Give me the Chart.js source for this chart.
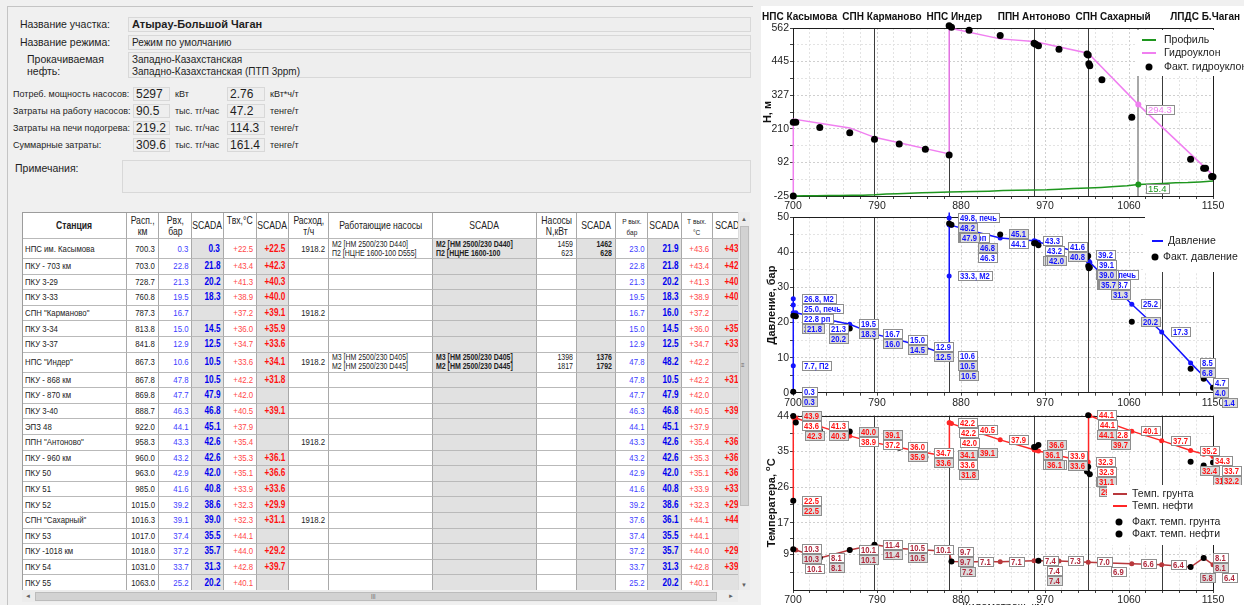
<!DOCTYPE html>
<html lang="ru">
<head>
<meta charset="UTF-8" />
<title>Атырау-Большой Чаган</title>
<script src="https://cdn.jsdelivr.net/npm/chart.js"></script>
<style>
  html, body { margin: 0; padding: 0; }
  body { position: relative; width: 1244px; height: 605px; overflow: hidden; background: #f0f0f0;
         font-family: "Liberation Sans", Arial, sans-serif; color: #1e1e1e; }
  .a { position: absolute; white-space: nowrap; }
  .frame { left: 7px; top: 6px; width: 745px; height: 640px; border-top: 1px solid #c4c4c4; border-left: 1px solid #c4c4c4; }
  .lbl { font-size: 10.5px; line-height: 12px; }
  .st { font-size: 9px; line-height: 12px; }
  .box { background: #eeeeee; border: 1px solid #d8d8d8; box-sizing: border-box; padding-left: 3px; }
  .val { font-size: 12px; line-height: 12px; padding-left: 2px; }
  #grid { left: 22px; top: 212px; width: 716px; height: 378px; overflow: hidden; background: #fff;
          border-left: 1px solid #9c9c9c; border-top: 1px solid #9c9c9c; box-sizing: border-box; }
  .c { position: absolute; box-sizing: border-box; border-right: 1px solid #a9a9a9; border-bottom: 1px solid #b9b9b9;
       display: flex; align-items: center; overflow: hidden; white-space: nowrap; padding: 0 3px;
       font-family: "Liberation Sans", Arial, sans-serif; font-size: 9.5px; line-height: 10px; color: #222; }
  .t { display: inline-block; transform: scaleX(0.82); transform-origin: left center; }
  .r { justify-content: flex-end; text-align: right; }
  .r .t { transform-origin: right center; }
  .h { justify-content: center; text-align: center; font-size: 10.5px; line-height: 11px; background: #fff; }
  .h .t { transform-origin: center center; }
  .g { background: #e1e1e1; }
  .bl { color: #4040ff; }
  .bb { color: #0000ee; font-weight: bold; font-size: 10px; }
  .rd { color: #ff4848; }
  .rb { color: #ff1010; font-weight: bold; font-size: 10px; }
  .pm { font-size: 8.5px; line-height: 9px; }
  .b { font-weight: bold; }
  .sb { background: #ececec; }
  .thumb { background: #d2d2d2; border: 1px solid #bcbcbc; box-sizing: border-box; }
  .arr { font-size: 6px; color: #606060; line-height: 6px; }
  #right { left: 761px; top: 6px; width: 483px; height: 599px; background: #fff; }
  canvas { position: absolute; left: 757px; }
</style>
</head>
<body>
  <!-- left form -->
  <div class="a frame"></div>
  <div class="a lbl" style="left:20px;top:18px">Название участка:</div>
  <div class="a box" style="left:128px;top:17px;width:623px;height:15px;font-size:11px;line-height:13px;font-weight:bold">Атырау-Большой Чаган</div>
  <div class="a lbl" style="left:20px;top:36px">Название режима:</div>
  <div class="a box" style="left:128px;top:35px;width:623px;height:15px;font-size:10px;line-height:13px">Режим по умолчанию</div>
  <div class="a lbl" style="left:27px;top:53px">Прокачиваемая</div>
  <div class="a lbl" style="left:27px;top:65px">нефть:</div>
  <div class="a box" style="left:128px;top:52px;width:623px;height:26px;font-size:10px;line-height:12px;padding-top:1px">Западно-Казахстанская<br>Западно-Казахстанская (ПТП 3ppm)</div>
  <div id="stats"></div>
  <div class="a lbl" style="left:15px;top:162px">Примечания:</div>
  <div class="a box" style="left:122px;top:160px;width:629px;height:33px"></div>

  <!-- station table -->
  <div id="grid" class="a"></div>
  <div class="a sb" style="left:738px;top:212px;width:12px;height:378px;border-left:1px solid #dcdcdc;box-sizing:border-box"></div>
  <div class="a arr" style="left:741px;top:216px">▲</div>
  <div class="a thumb" style="left:740px;top:226px;width:9px;height:280px"></div>
  <div class="a arr" style="left:741px;top:362px">≡</div>
  <div class="a arr" style="left:741px;top:582px">▼</div>
  <div class="a sb" style="left:22px;top:590px;width:716px;height:12px"></div>
  <div class="a arr" style="left:25px;top:593px">◄</div>
  <div class="a thumb" style="left:35px;top:592px;width:682px;height:9px"></div>
  <div class="a arr" style="left:371px;top:593px">|||</div>
  <div class="a arr" style="left:728px;top:593px">►</div>

  <!-- charts -->
  <div id="right" class="a"></div>
  <canvas id="c1" width="487" height="212" style="top:0px"></canvas>
  <canvas id="c2" width="487" height="205" style="top:205px"></canvas>
  <canvas id="c3" width="487" height="200" style="top:405px"></canvas>

<script>
// ---------- chart data ----------
const xTickLabels = [700, 790, 880, 970, 1060, 1150];
const stationKm = [700.3, 787.3, 867.3, 958.3, 1016.3, 1150];
const stationNames = ['НПС Касымова', 'СПН Карманово', 'НПС Индер', 'ППН Антоново', 'СПН Сахарный', 'ЛПДС Б.Чаган'];
const unnamedKm = [1095];

// hydraulic gradient, m
const hTicks = [-25, 92, 210, 327, 445, 562];
const profileKm = [700.3, 712, 725, 738, 750, 763, 775, 788, 800, 812, 825, 838, 850, 867.3, 880, 895, 910, 925, 940, 958.3, 972, 985, 1000, 1016.3, 1030, 1045, 1058, 1070, 1083, 1096, 1110, 1123, 1136, 1150];
const profileH = [-25, -24, -24, -23, -23, -22, -22, -21, -18, -17, -15, -14, -13, -11, -10, -9, -8, -6, -5, -4, -3, -1, 1, 3, 5, 8, 11, 15.4, 17, 19, 21, 22, 24, 27];
const hydroKm = [700.3, 700.3, 760.8, 787.3, 867.3, 867.3, 922, 958.3, 1016.3, 1070, 1150];
const hydroH = [-21, 244, 213, 180, 122, 562, 524, 515, 474, 294.3, 48];
const hydroFactKm = [700.3, 700.3, 703, 728.7, 760.8, 787.3, 813.8, 841.8, 867.3, 867.3, 869.8, 888.7, 922, 958.3, 960, 963, 985, 1015, 1016.3, 1017, 1018, 1031, 1063, 1126, 1140, 1142, 1148.5, 1150];
const hydroFactH = [-25, 233, 233, 214, 196, 173, 157, 138, 118, 570, 565, 554, 536, 509, 505, 500, 488, 471, 468, 437, 430, 381, 250, 103, 72, 72, 43, 42];
const cursorKm = 1070;
const cursorHydro = 294.3;
const cursorProfile = 15.4;

// pressure, bar
const pTicks = [0, 10, 20, 30, 40, 50];
const presKm = [700.3, 700.3, 700.3, 700.3, 700.3, 703, 728.7, 760.8, 787.3, 813.8, 841.8, 867.3, 867.3, 867.3, 867.3, 867.3, 867.8, 869.8, 888.7, 922, 958.3, 960, 963, 985, 1015, 1016.3, 1016.3, 1017, 1018, 1031, 1063, 1095, 1126, 1140, 1150];
const presCalc = [0.3, 7.7, 26.8, 25.0, 22.8, 22.8, 21.3, 19.5, 16.7, 15.0, 12.9, 10.6, 33.3, 51.4, 49.8, 47.9, 47.8, 47.7, 46.3, 44.1, 43.3, 43.2, 42.9, 41.6, 39.2, 39.1, 37.6, 37.4, 37.2, 33.7, 25.2, 17.3, 8.5, 4.7, 1.4];
const presNote = ['', ', П2', ', М2', ', печь', ' рп', '', '', '', '', '', '', '', ', М2', null, ', печь', ' рп', '', '', '', '', '', '', '', '', '', '', ', печь', '', '', '', '', '', '', '', ''];
const presFactKm = [700.3, 700.3, 703, 728.7, 760.8, 787.3, 813.8, 841.8, 867.3, 867.3, 867.8, 869.8, 888.7, 922, 958.3, 960, 963, 985, 1015, 1016.3, 1016.3, 1017, 1018, 1031, 1063, 1126, 1140, 1150];
const presFact = [0.3, 21.9, 21.8, 20.2, 18.3, 16.0, 14.5, 12.5, 10.5, 48.2, 10.5, 47.9, 46.8, 45.1, 42.6, 42.6, 42.0, 40.8, 38.6, 39.0, 36.1, 35.5, 35.7, 31.3, 20.2, 6.8, 4.0, 1.4];

// temperature, °C
const tTicks = [9, 17, 26, 35, 44];
const oilKm = [700.3, 700.3, 703, 728.7, 760.8, 787.3, 813.8, 841.8, 867.3, 867.3, 867.8, 869.8, 888.7, 922, 958.3, 960, 963, 985, 1015, 1016.3, 1016.3, 1017, 1018, 1031, 1063, 1095, 1126, 1140, 1150];
const oilT = [22.5, 43.6, 43.4, 41.3, 38.9, 37.2, 36.0, 34.7, 33.6, 42.2, 42.2, 42.0, 40.5, 37.9, 35.4, 35.3, 35.1, 33.9, 32.3, 32.3, 44.1, 44.1, 44.0, 42.8, 40.1, 37.7, 35.2, 34.3, 33.7];
const oilFactKm = [700.3, 700.3, 703, 728.7, 760.8, 787.3, 813.8, 841.8, 867.3, 867.8, 888.7, 958.3, 960, 963, 985, 1015, 1016.3, 1016.3, 1018, 1031, 1126, 1140, 1150];
const oilFact = [22.5, 43.9, 42.3, 40.3, 40.0, 39.1, 35.9, 33.6, 34.1, 31.8, 39.1, 36.1, 36.1, 36.6, 33.6, 29.9, 31.1, 44.1, 29.2, 39.7, 32.4, 31.4, 32.2];
const groundKm = [700.3, 703, 728.7, 760.8, 787.3, 813.8, 841.8, 867.3, 869.8, 888.7, 922, 958.3, 963, 985, 1016.3, 1031, 1063, 1095, 1126, 1140, 1150];
const groundT = [10.3, 10.1, 8.1, 10.1, 11.4, 10.5, 10.1, 9.7, 7.2, 7.1, 7.1, 7.4, 7.4, 7.3, 7.0, 6.9, 6.6, 6.4, 5.8, 8.1, 6.4];
const groundFactKm = [700.3, 728.7, 760.8, 787.3, 813.8, 867.3, 869.8, 963, 1126, 1140];
const groundFact = [10.3, 8.1, 10.1, 11.4, 10.5, 9.7, 7.2, 7.4, 5.8, 8.1];

// ---------- form + table data ----------
const stats = [
  ['Потреб. мощность насосов:', '5297', 'кВт', '2.76', 'кВт*ч/т'],
  ['Затраты на работу насосов:', '90.5', 'тыс. тг/час', '47.2', 'тенге/т'],
  ['Затраты на печи подогрева:', '219.2', 'тыс. тг/час', '114.3', 'тенге/т'],
  ['Суммарные затраты:', '309.6', 'тыс. тг/час', '161.4', 'тенге/т']
];
const statCenters = [94, 111, 128, 145];

const colEdges = [22, 127, 159, 192, 224, 257, 289, 329, 433, 537, 577, 616, 648, 682, 713, 749];
const colCls = ['', 'r', 'r bl', 'r bb g', 'r rd', 'r rb g', 'r', 'pm', 'pm b g', 'r pm', 'r pm b g', 'r bl', 'r bb g', 'r rd', 'r rb g'];
const headers = ['<b>Станция</b>', 'Расп.,<br>км', 'Рвх,<br>бар', 'SCADA', 'Твх,°С<br>&nbsp;', 'SCADA', 'Расход,<br>т/ч',
  'Работающие насосы', 'SCADA', 'Насосы<br>N,кВт', 'SCADA', '<span style="font-size:8px;line-height:9px">Р вых.<br>бар</span>', 'SCADA',
  '<span style="font-size:8px;line-height:9px">Т вых.<br>°С</span>', 'SCADA'];

const R = (n, km, pi, spi, ti, sti, fl, po, spo, to, sto) => [n, km, pi, spi, ti, sti, fl, '', '', '', '', po, spo, to, sto];
const tableRows = [
  ['НПС им. Касымова', '700.3', '0.3', '0.3', '+22.5', '+22.5', '1918.2', 'М2 [НМ 2500/230 D440]<br>П2 [НЦНЕ 1600-100 D555]', 'М2 [НМ 2500/230 D440]<br>П2 [НЦНЕ 1600-100', '1459<br>623', '1462<br>628', '23.0', '21.9', '+43.6', '+43.9'],
  R('ПКУ - 703 км', '703.0', '22.8', '21.8', '+43.4', '+42.3', '', '22.8', '21.8', '+43.4', '+42.3'),
  R('ПКУ 3-29', '728.7', '21.3', '20.2', '+41.3', '+40.3', '', '21.3', '20.2', '+41.3', '+40.3'),
  R('ПКУ 3-33', '760.8', '19.5', '18.3', '+38.9', '+40.0', '', '19.5', '18.3', '+38.9', '+40.0'),
  R('СПН "Карманово"', '787.3', '16.7', '', '+37.2', '+39.1', '1918.2', '16.7', '16.0', '+37.2', ''),
  R('ПКУ 3-34', '813.8', '15.0', '14.5', '+36.0', '+35.9', '', '15.0', '14.5', '+36.0', '+35.9'),
  R('ПКУ 3-37', '841.8', '12.9', '12.5', '+34.7', '+33.6', '', '12.9', '12.5', '+34.7', '+33.6'),
  ['НПС "Индер"', '867.3', '10.6', '10.5', '+33.6', '+34.1', '1918.2', 'М3 [НМ 2500/230 D405]<br>М2 [НМ 2500/230 D445]', 'М3 [НМ 2500/230 D405]<br>М2 [НМ 2500/230 D445]', '1398<br>1817', '1376<br>1792', '47.8', '48.2', '+42.2', ''],
  R('ПКУ - 868 км', '867.8', '47.8', '10.5', '+42.2', '+31.8', '', '47.8', '10.5', '+42.2', '+31.8'),
  R('ПКУ - 870 км', '869.8', '47.7', '47.9', '+42.0', '', '', '47.7', '47.9', '+42.0', ''),
  R('ПКУ 3-40', '888.7', '46.3', '46.8', '+40.5', '+39.1', '', '46.3', '46.8', '+40.5', '+39.1'),
  R('ЭПЗ 48', '922.0', '44.1', '45.1', '+37.9', '', '', '44.1', '45.1', '+37.9', ''),
  R('ППН "Антоново"', '958.3', '43.3', '42.6', '+35.4', '', '1918.2', '43.3', '42.6', '+35.4', '+36.1'),
  R('ПКУ - 960 км', '960.0', '43.2', '42.6', '+35.3', '+36.1', '', '43.2', '42.6', '+35.3', '+36.1'),
  R('ПКУ 50', '963.0', '42.9', '42.0', '+35.1', '+36.6', '', '42.9', '42.0', '+35.1', '+36.6'),
  R('ПКУ 51', '985.0', '41.6', '40.8', '+33.9', '+33.6', '', '41.6', '40.8', '+33.9', '+33.6'),
  R('ПКУ 52', '1015.0', '39.2', '38.6', '+32.3', '+29.9', '', '39.2', '38.6', '+32.3', '+29.9'),
  R('СПН "Сахарный"', '1016.3', '39.1', '39.0', '+32.3', '+31.1', '1918.2', '37.6', '36.1', '+44.1', '+44.1'),
  R('ПКУ 53', '1017.0', '37.4', '35.5', '+44.1', '', '', '37.4', '35.5', '+44.1', ''),
  R('ПКУ -1018 км', '1018.0', '37.2', '35.7', '+44.0', '+29.2', '', '37.2', '35.7', '+44.0', '+29.2'),
  R('ПКУ 54', '1031.0', '33.7', '31.3', '+42.8', '+39.7', '', '33.7', '31.3', '+42.8', '+39.7'),
  R('ПКУ 55', '1063.0', '25.2', '20.2', '+40.1', '', '', '25.2', '20.2', '+40.1', '')
];

// ---------- build form ----------
let html = '';
stats.forEach((s, i) => {
  const c = statCenters[i];
  html += `<div class="a st" style="left:13px;top:${c - 6}px">${s[0]}</div>`;
  html += `<div class="a box val" style="left:133px;top:${c - 7}px;width:37px;height:14px">${s[1]}</div>`;
  html += `<div class="a st" style="left:175px;top:${c - 6}px">${s[2]}</div>`;
  html += `<div class="a box val" style="left:227px;top:${c - 7}px;width:38px;height:14px">${s[3]}</div>`;
  html += `<div class="a st" style="left:270px;top:${c - 6}px">${s[4]}</div>`;
});
document.getElementById('stats').innerHTML = html;

// ---------- build table ----------
function cells(row, top, h, header) {
  let out = '';
  row.forEach((txt, i) => {
    const left = colEdges[i] - 23, w = colEdges[i + 1] - colEdges[i];
    const cls = header ? 'c h' : 'c ' + colCls[i];
    out += `<div class="${cls}" style="left:${left}px;top:${top}px;width:${w}px;height:${h}px"><span class="t">${txt}</span></div>`;
  });
  return out;
}
let tbl = cells(headers, 0, 26, true);
let y0 = 26;
tableRows.forEach(r => {
  const h = r[7] ? 20 : 15.6;
  tbl += cells(r, y0, h, false);
  y0 += h;
});
document.getElementById('grid').innerHTML = tbl;

// ---------- charts ----------
const FONT = '"Liberation Sans", Arial, sans-serif';
const BLUE = '#1414ff', PINK = '#f07ff0', GREEN = '#1e961e', RED = '#ff2626', GROUND = '#b8383c';
const decoCfg = {};

// boxed value label; sx squeezes the text horizontally like the original narrow font
function labelBox(ctx, text, x, top, color, bg, sx) {
  const w = Math.ceil(ctx.measureText(text).width * sx) + 4, h = 9;
  const l = Math.round(x), t = Math.round(top);
  ctx.fillStyle = bg;
  ctx.fillRect(l, t, w, h);
  ctx.strokeStyle = '#8e8e8e';
  ctx.lineWidth = 1;
  ctx.strokeRect(l + 0.5, t + 0.5, w, h);
  ctx.save();
  ctx.translate(l + 2, t + h / 2 + 1);
  ctx.scale(sx, 1);
  ctx.fillStyle = color;
  ctx.textBaseline = 'middle';
  ctx.textAlign = 'left';
  ctx.fillText(text, 0, 0);
  ctx.restore();
}

function drawBoxLabels(chart, groups) {
  const { ctx, scales: { x, y } } = chart;
  const SX = 0.85;
  ctx.save();
  ctx.font = 'bold 9px ' + FONT;
  const items = [];
  groups.forEach(g => g.km.forEach((k, i) => {
    if (g.text[i] == null) return;
    items.push({ px: x.getPixelForValue(k), py: y.getPixelForValue(g.val[i]), text: g.text[i],
      w: Math.ceil(ctx.measureText(g.text[i]).width * SX) + 4, h: 10, color: g.color, bg: g.bg });
  }));
  // greedy placement: a box moves down (at most twice) when it hits an earlier one
  const placed = [];
  items.slice().sort((a, b) => a.py - b.py).forEach(it => {
    it.x = it.px + 9;
    it.y = it.py - it.h / 2;
    for (let n = 0; n < 2; n++) {
      const hit = placed.find(p => it.x < p.x + p.w && it.x + it.w > p.x && it.y < p.y + p.h && it.y + it.h > p.y);
      if (!hit) break;
      it.y = hit.y + hit.h;
    }
    placed.push(it);
  });
  items.forEach(it => labelBox(ctx, it.text, it.x, it.y, it.color, it.bg, SX));
  ctx.restore();
}

function drawLegend(ctx, lg) {
  ctx.save();
  ctx.fillStyle = '#fff';
  ctx.fillRect(lg.box[0], lg.box[1], lg.box[2], lg.box[3]);
  ctx.font = '10.5px ' + FONT;
  ctx.textBaseline = 'middle';
  ctx.textAlign = 'left';
  lg.items.forEach(it => {
    if (it.kind === 'line') {
      ctx.strokeStyle = it.color;
      ctx.lineWidth = 2;
      ctx.beginPath();
      ctx.moveTo(it.x0, it.y);
      ctx.lineTo(it.x1, it.y);
      ctx.stroke();
    } else {
      ctx.fillStyle = '#000';
      ctx.beginPath();
      ctx.arc(it.x0, it.y, 3.5, 0, Math.PI * 2);
      ctx.fill();
    }
    ctx.fillStyle = '#222';
    ctx.fillText(it.text, it.tx, it.y + 0.5);
  });
  ctx.restore();
}

const deco = {
  id: 'deco',
  beforeDatasetsDraw(chart) {
    const o = decoCfg[chart.canvas.id];
    const { ctx, chartArea: a, scales: { x } } = chart;
    ctx.save();
    ctx.strokeStyle = '#3c3c3c';
    ctx.lineWidth = 1;
    stationKm.concat(unnamedKm).forEach(k => {
      const px = Math.round(x.getPixelForValue(k)) + 0.5;
      ctx.beginPath();
      ctx.moveTo(px, a.top);
      ctx.lineTo(px, a.bottom);
      ctx.stroke();
    });
    if (o.cursor) {
      const px = Math.round(x.getPixelForValue(cursorKm));
      ctx.strokeStyle = '#a8a8a8';
      ctx.lineWidth = 2;
      ctx.beginPath();
      ctx.moveTo(px, a.top);
      ctx.lineTo(px, a.bottom);
      ctx.stroke();
    }
    ctx.strokeStyle = '#1e1e1e';
    ctx.lineWidth = 1;
    ctx.strokeRect(Math.round(a.left) + 0.5, Math.round(a.top) + 0.5, Math.round(a.width), Math.round(a.height));
    ctx.restore();
  },
  afterDatasetsDraw(chart) {
    const o = decoCfg[chart.canvas.id];
    const { ctx, chartArea: a, scales: { x, y } } = chart;
    ctx.save();
    if (o.cursor) {
      ctx.font = '9.5px ' + FONT;
      [[cursorHydro, PINK], [cursorProfile, GREEN]].forEach(([v, col]) => {
        const px = x.getPixelForValue(cursorKm), py = y.getPixelForValue(v);
        ctx.fillStyle = col;
        ctx.beginPath();
        ctx.arc(px, py, 3, 0, Math.PI * 2);
        ctx.fill();
        labelBox(ctx, v.toFixed(1), px + 8, py, col, '#fff', 1);
      });
    }
    if (o.labels) drawBoxLabels(chart, o.labels);
    if (o.legend) drawLegend(ctx, o.legend);
    if (o.stations) {
      ctx.font = 'bold 10px ' + FONT;
      ctx.fillStyle = '#111';
      ctx.textBaseline = 'middle';
      ctx.textAlign = 'left';
      let prevRight = -Infinity;
      const boxes = stationNames.map((n, i) => {
        const w = ctx.measureText(n).width;
        const l = Math.max(x.getPixelForValue(stationKm[i]) - w / 2, 5, prevRight + 5);
        prevRight = l + w;
        return { n, l, w };
      });
      const last = boxes[boxes.length - 1];
      if (last.l + last.w > chart.width - 4) last.l = chart.width - 4 - last.w;
      boxes.forEach(b => ctx.fillText(b.n, b.l, 17));
    }
    // y axis title
    ctx.translate(o.yTitleX, (a.top + a.bottom) / 2);
    ctx.rotate(-Math.PI / 2);
    ctx.fillStyle = '#111';
    ctx.textBaseline = 'middle';
    ctx.textAlign = 'left';
    let total = 0;
    o.yTitle.forEach(p => { ctx.font = p[1]; total += ctx.measureText(p[0]).width; });
    let cx = -total / 2;
    o.yTitle.forEach(p => { ctx.font = p[1]; ctx.fillText(p[0], cx, p[2]); cx += ctx.measureText(p[0]).width; });
    ctx.restore();
    if (o.xTitle) {
      ctx.save();
      ctx.font = '11px ' + FONT;
      ctx.fillStyle = '#222';
      ctx.textAlign = 'center';
      ctx.textBaseline = 'top';
      ctx.fillText(o.xTitle, (a.left + a.right) / 2, o.xTitleY);
      ctx.restore();
    }
  }
};

function xAxis(xHeight) {
  const step = (xTickLabels[1] - xTickLabels[0]) / 5;
  return {
    type: 'linear', min: xTickLabels[0], max: xTickLabels[xTickLabels.length - 1],
    afterBuildTicks: ax => {
      const t = [];
      for (let v = ax.min; v <= ax.max + 0.01; v += step) t.push({ value: Math.round(v * 10) / 10 });
      ax.ticks = t;
    },
    afterFit: ax => { ax.height = xHeight; },
    ticks: { autoSkip: false, maxRotation: 0, padding: 1, color: '#1e1e1e', font: { family: FONT, size: 10.5 },
      callback: v => xTickLabels.includes(v) ? String(v) : '' },
    grid: { color: c => (c.tick && xTickLabels.includes(c.tick.value)) ? '#cfcfcf' : '#e3e3e3', tickLength: 3, tickColor: '#444' },
    border: { display: false, dash: [2, 2] }
  };
}

function yAxis(tickVals, min, max) {
  return {
    type: 'linear', min, max,
    afterBuildTicks: ax => {
      const t = [];
      if (tickVals[0] > min) t.push({ value: (min + tickVals[0]) / 2 });
      tickVals.forEach((v, i) => {
        t.push({ value: v });
        if (i < tickVals.length - 1) t.push({ value: (v + tickVals[i + 1]) / 2 });
      });
      ax.ticks = t;
    },
    afterFit: ax => { ax.width = 36; },
    ticks: { autoSkip: false, padding: 1, color: '#1e1e1e', font: { family: FONT, size: 10.5 },
      callback: v => tickVals.includes(v) ? String(v) : '' },
    grid: { color: c => (c.tick && tickVals.includes(c.tick.value)) ? '#cfcfcf' : '#e3e3e3', tickLength: 3, tickColor: '#444' },
    border: { display: false, dash: [2, 2] }
  };
}

const pts = (xs, ys) => xs.map((k, i) => ({ x: k, y: ys[i] }));
const lineSet = (xs, ys, color, r, w) => ({ data: pts(xs, ys), showLine: true, borderColor: color, backgroundColor: color,
  borderWidth: w || 1.5, pointRadius: r, pointHoverRadius: r, pointBorderWidth: 0, order: 2, clip: false });
const dotSet = (xs, ys, r) => ({ data: pts(xs, ys), showLine: false, borderColor: '#000', backgroundColor: '#000',
  pointRadius: r, pointHoverRadius: r, pointBorderWidth: 0, order: 0, clip: false });

function build(id, xH, padTop, yTicks, yMin, yMax, datasets) {
  return new Chart(document.getElementById(id), {
    type: 'scatter',
    data: { datasets },
    options: {
      responsive: false, animation: false, devicePixelRatio: 1, events: [],
      layout: { padding: { top: padTop, right: 31, left: 0, bottom: 0 } },
      plugins: { legend: { display: false }, tooltip: { enabled: false } },
      scales: { x: xAxis(xH), y: yAxis(yTicks, yMin, yMax) }
    },
    plugins: [deco]
  });
}

const fmt = arr => arr.map(v => v.toFixed(1));

// chart 1: head
decoCfg.c1 = {
  stations: true, cursor: true, yTitleX: 11,
  yTitle: [['Н, м', 'bold 11px ' + FONT, 0]],
  legend: { box: [378, 30, 109, 46], items: [
    { kind: 'line', color: GREEN, x0: 385, x1: 399, y: 40, tx: 407, text: 'Профиль' },
    { kind: 'line', color: PINK, x0: 385, x1: 399, y: 53, tx: 407, text: 'Гидроуклон' },
    { kind: 'dot', x0: 392, y: 67, tx: 407, text: 'Факт. гидроуклон' }
  ] }
};
build('c1', 16, 28, hTicks, hTicks[0], hTicks[hTicks.length - 1], [
  dotSet(hydroFactKm, hydroFactH, 3.5),
  lineSet(profileKm, profileH, GREEN, 0, 1.5),
  lineSet(hydroKm, hydroH, PINK, 0, 1.5)
]);

// chart 2: pressure
decoCfg.c2 = {
  yTitleX: 15,
  yTitle: [['Давление, бар', 'bold 11px ' + FONT, 0]],
  labels: [
    { km: presKm, val: presCalc, text: presCalc.map((v, i) => presNote[i] === null ? null : v.toFixed(1) + presNote[i]), color: BLUE, bg: '#ffffff' },
    { km: presFactKm, val: presFact, text: fmt(presFact), color: BLUE, bg: '#dcdcdc' }
  ],
  legend: { box: [388, 12, 99, 55], items: [
    { kind: 'line', color: BLUE, x0: 395, x1: 406, y: 36, tx: 411, text: 'Давление' },
    { kind: 'dot', x0: 398, y: 52, tx: 406, text: 'Факт. давление' }
  ] }
};
build('c2', 17.3, 12.3, pTicks, 0, 50, [
  dotSet(presFactKm, presFact, 3),
  lineSet(presKm, presCalc, BLUE, 2.5, 1.5)
]);

// chart 3: temperature
decoCfg.c3 = {
  yTitleX: 15,
  yTitle: [['Температера, ', 'bold 11px ' + FONT, 0], ['o', 'bold 7.5px ' + FONT, -4], ['C', 'bold 11px ' + FONT, 0]],
  xTitle: 'Километраж, км', xTitleY: 196,
  labels: [
    { km: oilKm, val: oilT, text: fmt(oilT), color: '#ff1414', bg: '#ffffff' },
    { km: groundKm, val: groundT, text: fmt(groundT), color: '#b0283c', bg: '#ffffff' },
    { km: oilFactKm, val: oilFact, text: fmt(oilFact), color: '#ff1414', bg: '#dcdcdc' },
    { km: groundFactKm, val: groundFact, text: fmt(groundFact), color: '#b0283c', bg: '#dcdcdc' }
  ],
  legend: { box: [350, 80, 137, 60], items: [
    { kind: 'line', color: GROUND, x0: 356, x1: 370, y: 89, tx: 375, text: 'Темп. грунта' },
    { kind: 'line', color: RED, x0: 356, x1: 370, y: 101, tx: 375, text: 'Темп. нефти' },
    { kind: 'dot', x0: 362, y: 117, tx: 375, text: 'Факт. темп. грунта' },
    { kind: 'dot', x0: 362, y: 129, tx: 375, text: 'Факт. темп. нефти' }
  ] }
};
build('c3', 15, 10.7, tTicks, 0, 44, [
  dotSet(oilFactKm, oilFact, 3),
  dotSet(groundFactKm, groundFact, 3),
  lineSet(oilKm, oilT, RED, 2.5, 1.5),
  lineSet(groundKm, groundT, GROUND, 2.5, 1.5)
]);
</script>
</body>
</html>
